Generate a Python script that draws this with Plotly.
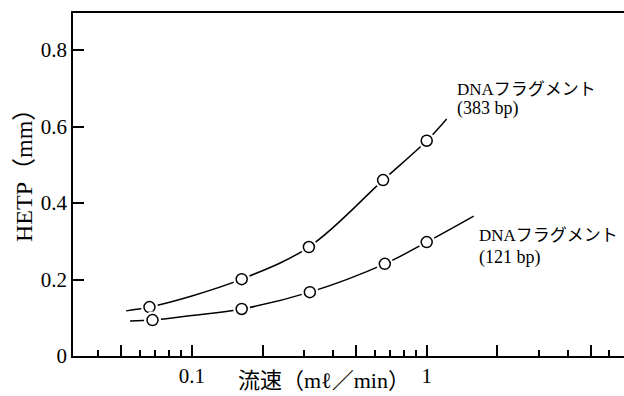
import plotly.graph_objects as go

flow_383 = [0.066, 0.163, 0.315, 0.652, 1.0]
hetp_383 = [0.128, 0.201, 0.285, 0.460, 0.563]
flow_121 = [0.068, 0.163, 0.318, 0.663, 1.0]
hetp_121 = [0.094, 0.123, 0.167, 0.241, 0.298]

# Hand-drawn fitted curves
curve_383_x = [0.0525, 0.066, 0.10, 0.163, 0.315, 0.652, 1.0, 1.216]
curve_383_y = [0.118, 0.128, 0.157, 0.201, 0.285, 0.460, 0.563, 0.620]
curve_121_x = [0.0546, 0.068, 0.10, 0.163, 0.318, 0.663, 1.0, 1.585]
curve_121_y = [0.0915, 0.094, 0.106, 0.123, 0.167, 0.241, 0.298, 0.366]

x_major_ticks = [0.05, 0.1, 0.2, 0.5, 1, 2, 5]
x_major_text = ["", "0.1", "", "", "1", "", ""]
x_minor_ticks = [0.04, 0.06, 0.07, 0.08, 0.09, 0.3, 0.4, 0.6, 0.7, 0.8, 0.9,
                 3, 4, 6, 7]
y_ticks = [0, 0.2, 0.4, 0.6, 0.8]
y_text = ["0", "0.2", "0.4", "0.6", "0.8"]

label_383 = ["DNAフラグメント", "(383 bp)"]
label_121 = ["DNAフラグメント", "(121 bp)"]
x_title = "流速（mℓ／min）"
y_title = "HETP（mm）"

SERIF = "Liberation Serif, Noto Sans CJK JP, serif"

fig = go.Figure()

for cx, cy in [(curve_383_x, curve_383_y), (curve_121_x, curve_121_y)]:
    fig.add_trace(go.Scatter(x=cx, y=cy, mode="lines",
                             line=dict(color="black", width=1.5, shape="spline", smoothing=1.0),
                             hoverinfo="skip", showlegend=False))

for fx, fy in [(flow_383, hetp_383), (flow_121, hetp_121)]:
    # white halo to create the small gap in the curve around each circle
    fig.add_trace(go.Scatter(x=fx, y=fy, mode="markers",
                             marker=dict(symbol="circle", size=17, color="white",
                                         line=dict(width=0)),
                             hoverinfo="skip", showlegend=False))
    fig.add_trace(go.Scatter(x=fx, y=fy, mode="markers",
                             marker=dict(symbol="circle", size=11, color="white",
                                         line=dict(color="black", width=1.5)),
                             showlegend=False))

W, H = 624, 396
L, R, T, B = 73, 0, 13, 40
pw, ph = W - L - R, H - T - B

def px(xp):
    return (xp - L) / pw

def py(yp):
    return (H - B - yp) / ph

annotations = [
    dict(text=label_383[0], x=px(455), y=py(89), xanchor="left", yanchor="middle", size=17),
    dict(text=label_383[1], x=px(455), y=py(108), xanchor="left", yanchor="middle", size=18),
    dict(text=label_121[0], x=px(477), y=py(235), xanchor="left", yanchor="middle", size=17),
    dict(text=label_121[1], x=px(477), y=py(257), xanchor="left", yanchor="middle", size=18),
]
for a in annotations:
    s = a.pop("size")
    a.update(xref="paper", yref="paper", showarrow=False,
             font=dict(family=SERIF, size=s, color="black"))

annotations.append(dict(text=x_title, x=px(324), y=py(380), xref="paper", yref="paper",
                        xanchor="center", yanchor="middle", showarrow=False,
                        font=dict(family=SERIF, size=22, color="black")))
annotations.append(dict(text=y_title, x=px(24), y=py(170), xref="paper", yref="paper",
                        xanchor="center", yanchor="middle", showarrow=False, textangle=-90,
                        font=dict(family=SERIF, size=24, color="black")))

fig.update_layout(
    width=W, height=H,
    margin=dict(l=L, r=R, t=T, b=B, pad=0),
    paper_bgcolor="white", plot_bgcolor="white",
    showlegend=False,
    annotations=annotations,
    xaxis=dict(type="log", range=[-1.506, 0.84],
               showline=True, linecolor="black", linewidth=1.5, mirror=True,
               showgrid=False, zeroline=False, automargin=False,
               tickmode="array", tickvals=x_major_ticks, ticktext=x_major_text,
               ticks="inside", ticklen=11, tickwidth=1.5, tickcolor="black",
               ticklabelstandoff=0,
               minor=dict(tickmode="array", tickvals=x_minor_ticks, ticks="inside",
                          ticklen=6, tickwidth=1.5, tickcolor="black", showgrid=False),
               tickfont=dict(family=SERIF, size=21, color="black")),
    yaxis=dict(range=[0, 0.897],
               showline=True, linecolor="black", linewidth=1.5, mirror=False,
               showgrid=False, zeroline=False, automargin=False,
               tickmode="array", tickvals=y_ticks, ticktext=y_text,
               ticks="inside", ticklen=11, tickwidth=1.5, tickcolor="black",
               tickfont=dict(family=SERIF, size=21, color="black")),
)

fig.write_html("out.html", config={"displayModeBar": False},
               post_script="document.body.style.margin='0';document.body.style.padding='0';")
